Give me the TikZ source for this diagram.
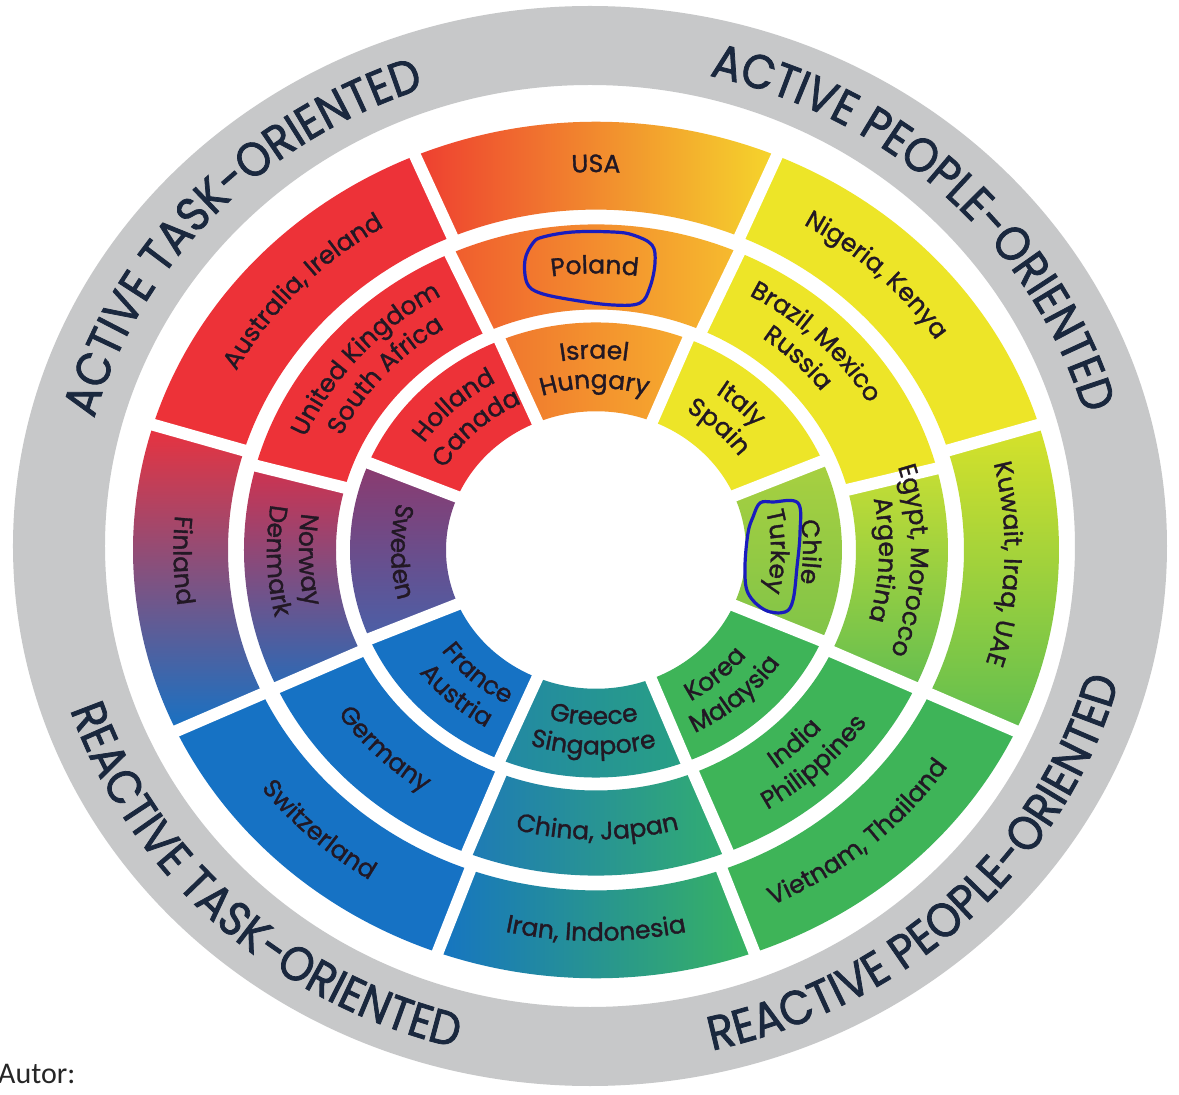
\documentclass[tikz,border=0pt]{standalone}
\usepackage{fontspec}
\usetikzlibrary{decorations.text}
\newfontfamily\wheelfont[FakeBold=1.3]{Poppins}
\newfontfamily\catfamily[FakeStretch=0.9,FakeBold=1.6]{Poppins}
\newfontfamily\autfamily{Carlito}
\newcommand\labfont{\wheelfont\fontsize{25}{25}\selectfont}
\newcommand\catfont{\catfamily\fontsize{48}{48}\selectfont}
\definecolor{ringgrey}{RGB}{199,200,201}
\definecolor{cred}{RGB}{237,50,56}
\definecolor{cyel}{RGB}{237,229,40}
\definecolor{cgrn}{RGB}{62,180,88}
\definecolor{cblu}{RGB}{22,114,196}
\definecolor{lbl}{RGB}{34,24,36}
\definecolor{catc}{RGB}{26,40,62}
\definecolor{loopc}{RGB}{25,28,190}
\definecolor{usaL}{RGB}{238,62,48}\definecolor{usaR}{RGB}{245,214,44}
\definecolor{polL}{RGB}{240,92,46}\definecolor{polR}{RGB}{246,188,46}
\definecolor{isrL}{RGB}{240,118,46}\definecolor{isrR}{RGB}{246,172,46}
\definecolor{finT}{RGB}{234,50,62}\definecolor{finB}{RGB}{22,114,196}
\definecolor{norT}{RGB}{208,50,78}\definecolor{norB}{RGB}{42,106,182}
\definecolor{sweT}{RGB}{140,58,110}\definecolor{sweB}{RGB}{74,96,168}
\definecolor{kuwT}{RGB}{215,226,42}\definecolor{kuwB}{RGB}{96,190,80}
\definecolor{egyT}{RGB}{198,222,52}\definecolor{egyB}{RGB}{100,190,80}
\definecolor{chlT}{RGB}{168,208,64}\definecolor{chlB}{RGB}{128,196,72}
\definecolor{iraL}{RGB}{22,116,194}\definecolor{iraR}{RGB}{56,180,96}
\definecolor{chiL}{RGB}{30,122,182}\definecolor{chiR}{RGB}{50,174,112}
\definecolor{greL}{RGB}{34,136,164}\definecolor{greR}{RGB}{40,160,132}
\tikzset{
  redS/.style={fill=cred}, yelS/.style={fill=cyel}, grnS/.style={fill=cgrn}, bluS/.style={fill=cblu},
  usaS/.style={left color=usaL,right color=usaR},
  polS/.style={left color=polL,right color=polR},
  isrS/.style={left color=isrL,right color=isrR},
  finS/.style={top color=finT,bottom color=finB},
  norS/.style={top color=norT,bottom color=norB},
  sweS/.style={top color=sweT,bottom color=sweB},
  kuwS/.style={top color=kuwT,bottom color=kuwB},
  egyS/.style={top color=egyT,bottom color=egyB},
  chlS/.style={top color=chlT,bottom color=chlB},
  iraS/.style={left color=iraL,right color=iraR},
  chiS/.style={left color=chiL,right color=chiR},
  greS/.style={left color=greL,right color=greR},
  gapline/.style={draw=white,line width=12pt},
  loopline/.style={draw=loopc,line width=3.2pt,line join=round}
}
\newcommand\seg[5]{\path[#5] (#1:#3pt) -- (#1:#4pt) arc[start angle=#1,end angle=#2,radius=#4pt] -- (#2:#3pt) arc[start angle=#2,end angle=#1,radius=#3pt] -- cycle;}
\newcommand\gapat[3]{\draw[gapline] (#1:#2pt) -- (#1:#3pt);}
\newcommand\labcw[3]{\pgfmathsetmacro\myLA{#1+60}\pgfmathsetmacro\myLB{#1-60}\pgfmathsetmacro\myLR{0.925*#2}%
  \path[decorate,decoration={text along path,text align=center,text color=lbl,text={|\labfont|#3}}] (\myLA:#2pt and \myLR pt) arc[start angle=\myLA,end angle=\myLB,x radius=#2pt,y radius=\myLR pt];}
\newcommand\labccw[3]{\pgfmathsetmacro\myLA{#1-60}\pgfmathsetmacro\myLB{#1+60}\pgfmathsetmacro\myLR{0.925*#2}%
  \path[decorate,decoration={text along path,text align=center,text color=lbl,text={|\labfont|#3}}] (\myLA:#2pt and \myLR pt) arc[start angle=\myLA,end angle=\myLB,x radius=#2pt,y radius=\myLR pt];}
\newcommand\catcw[4]{\pgfmathsetmacro\myCA{#1+75}\pgfmathsetmacro\myCB{#1-75}%
  \path[decorate,decoration={text along path,text align=center,text color=catc,text={|\catfont|#4}}] (\myCA:#2pt and #3pt) arc[start angle=\myCA,end angle=\myCB,x radius=#2pt,y radius=#3pt];}
\newcommand\catccw[4]{\pgfmathsetmacro\myCA{#1-75}\pgfmathsetmacro\myCB{#1+75}%
  \path[decorate,decoration={text along path,text align=center,text color=catc,text={|\catfont|#4}}] (\myCA:#2pt and #3pt) arc[start angle=\myCA,end angle=\myCB,x radius=#2pt,y radius=#3pt];}
\begin{document}
\begin{tikzpicture}[x=1pt,y=1pt]
\useasboundingbox (-596,-545) rectangle (583,550);
\fill[white] (-596,-545) rectangle (583,550);
% grey outer ring
\fill[ringgrey,even odd rule] (-6,4) ellipse[x radius=577pt,y radius=540pt] (-6,4) ellipse[x radius=485pt,y radius=461pt];
\begin{scope}[yscale=0.925]
% outer ring
\seg{-25}{17}{368}{463}{kuwS}
\seg{17}{67}{368}{463}{yelS}
\seg{67}{113}{368}{463}{usaS}
\seg{113}{163}{368}{463}{redS}
\seg{163}{205}{368}{463}{finS}
\seg{205}{250}{368}{463}{bluS}
\seg{250}{290}{368}{463}{iraS}
\seg{290}{335}{368}{463}{grnS}
% middle ring
\seg{-25}{14.5}{260}{352}{egyS}
\seg{14.5}{66}{260}{352}{yelS}
\seg{66}{114.5}{260}{352}{polS}
\seg{114.5}{165}{260}{352}{redS}
\seg{165}{205}{260}{352}{norS}
\seg{205}{248.5}{260}{352}{bluS}
\seg{248.5}{292}{260}{352}{chiS}
\seg{292}{335}{260}{352}{grnS}
% inner ring
\seg{-23.5}{23}{150}{246}{chlS}
\seg{23}{68}{150}{246}{yelS}
\seg{68}{113}{150}{246}{isrS}
\seg{113}{157.5}{150}{246}{redS}
\seg{157.5}{203}{150}{246}{sweS}
\seg{203}{247}{150}{246}{bluS}
\seg{247}{291.5}{150}{246}{greS}
\seg{291.5}{336.5}{150}{246}{grnS}
% white gaps
\foreach \a in {-25,17,67,113,163,205,250,290} {\gapat{\a}{362}{470}}
\foreach \a in {-25,14.5,66,114.5,165,205,248.5,292} {\gapat{\a}{254}{358}}
\foreach \a in {-23.5,23,68,113,157.5,203,247,291.5} {\gapat{\a}{144}{252}}
\end{scope}
% outer ring labels
\labcw{90}{408.5}{USA}
\labcw{45}{408.5}{Nigeria, Kenya}
\labcw{-2}{408.5}{Kuwait, Iraq, UAE}
\labcw{138}{408.5}{Australia, Ireland}
\labccw{312}{422.5}{Vietnam, Thailand}
\labccw{270}{422.5}{Iran, Indonesia}
\labccw{226}{422.5}{Switzerland}
\labccw{181.5}{422.5}{Finland}
% middle ring labels
\labcw{90.25}{299}{Poland}
\labcw{44}{315}{Brazil, Mexico}
\labcw{44}{283}{Russia}
\labcw{-2}{315}{Egypt, Morocco}
\labcw{-2}{283}{Argentina}
\labcw{139.75}{315}{United Kingdom}
\labcw{139.75}{283}{South Africa}
\labccw{315}{297}{India}
\labccw{315}{329}{Philippines}
\labccw{270.25}{313}{China, Japan}
\labccw{224}{313}{Germany}
\labccw{182}{297}{Norway}
\labccw{182}{329}{Denmark}
% inner ring labels
\labcw{90.5}{207}{Israel}
\labcw{90.5}{175}{Hungary}
\labcw{45.5}{207}{Italy}
\labcw{45.5}{175}{Spain}
\labcw{-0.5}{207}{Chile}
\labcw{-0.5}{175}{Turkey}
\labcw{134}{207}{Holland}
\labcw{134}{175}{Canada}
\labccw{313}{189}{Korea}
\labccw{313}{221}{Malaysia}
\labccw{269.25}{189}{Greece}
\labccw{269.25}{221}{Singapore}
\labccw{227}{189}{France}
\labccw{227}{221}{Austria}
\labccw{180.5}{205}{Sweden}
% category labels on the grey ring
\begin{scope}[shift={(-6,4)}]
\catcw{138}{514}{483.5}{ACTIVE TASK-ORIENTED}
\catcw{45}{514}{483.5}{ACTIVE PEOPLE-ORIENTED}
\catccw{226}{548}{517.5}{REACTIVE TASK-ORIENTED}
\catccw{315}{548}{517.5}{REACTIVE PEOPLE-ORIENTED}
\end{scope}
% hand-drawn loops
\draw[loopline] plot[smooth cycle,tension=0.6] coordinates {(-53,313) (-23,318) (17,318) (37,315) (56,305) (59,287) (54,263) (44,247) (17,245) (-23,250) (-56,257) (-69,267) (-71,290) (-63,307)};
\draw[loopline] plot[smooth cycle,tension=0.6] coordinates {(164,47) (177,48) (202,47) (204,17) (201,-17) (197,-50) (189,-62) (169,-60) (152,-43) (149,-17) (152,17) (157,33)};
\node[font=\autfamily\fontsize{30}{30}\selectfont,text=black!85,anchor=base west,inner sep=0pt] (autor) at (-598,-533) {Autor:};
\end{tikzpicture}
\end{document}
